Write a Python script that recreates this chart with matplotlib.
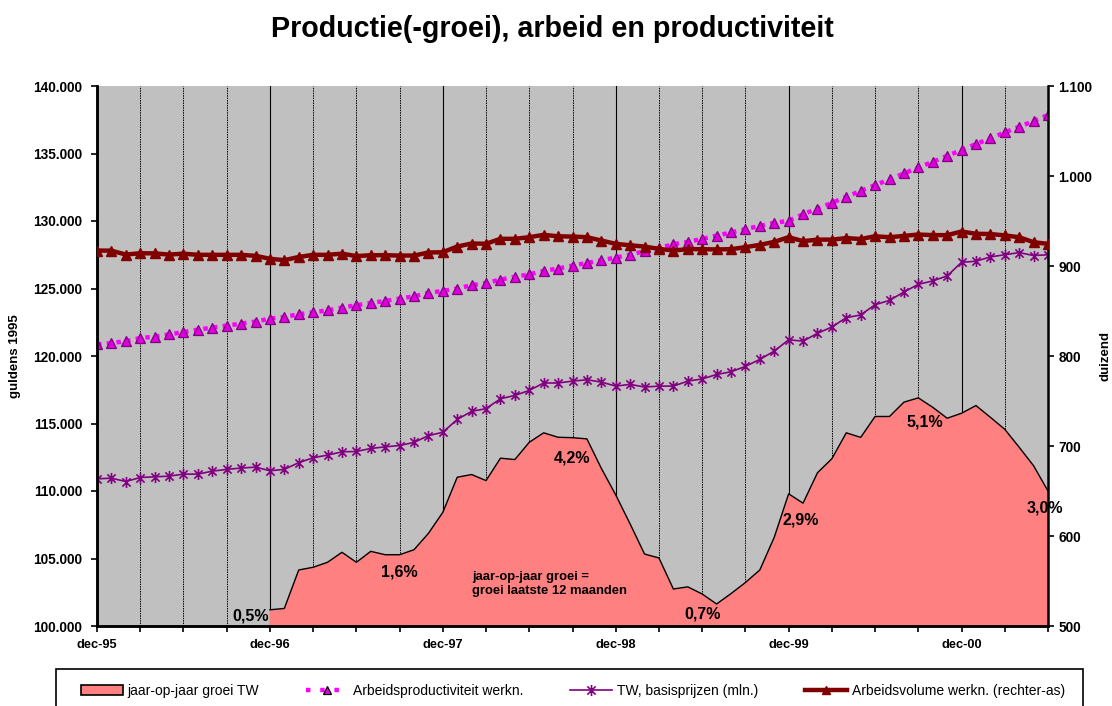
import numpy as np
import matplotlib
matplotlib.use("Agg")
import matplotlib.pyplot as plt
from matplotlib.path import Path
from matplotlib.patches import Patch, Rectangle
from matplotlib.lines import Line2D
from matplotlib.ticker import FuncFormatter, MultipleLocator

plt.rcParams['font.family'] = ['Liberation Sans', 'DejaVu Sans']

# ---------------- data (monthly, dec-95 .. jun-01) ----------------
months = [f"{m}-{y:02d}" for y in range(95, 102)
          for m in ["jan", "feb", "mrt", "apr", "mei", "jun", "jul", "aug", "sep", "okt", "nov", "dec"]]
months = months[11:11 + 67]   # dec-95 .. jun-01

productiviteit = [120860, 120955, 121105, 121330, 121430, 121600, 121770, 121950, 122100, 122250,
                  122400, 122550, 122770, 122890, 123090, 123240, 123380, 123580, 123760, 123930,
                  124080, 124250, 124420, 124670, 124820, 125000, 125240, 125410, 125660, 125860,
                  126050, 126300, 126480, 126700, 126890, 127090, 127290, 127510, 127760, 128000,
                  128280, 128450, 128670, 128920, 129150, 129390, 129640, 129860, 130010, 130500,
                  130920, 131340, 131790, 132230, 132660, 133080, 133520, 133970, 134380, 134830,
                  135250, 135700, 136120, 136560, 136980, 137400, 137850]

tw_basisprijzen = [110900, 110950, 110700, 111000, 111050, 111100, 111250, 111250, 111470, 111600,
                   111700, 111770, 111500, 111600, 112100, 112460, 112660, 112900, 112930, 113150,
                   113270, 113370, 113600, 114100, 114350, 115300, 115900, 116100, 116830, 117080,
                   117450, 118000, 118000, 118140, 118240, 118070, 117770, 117900, 117700, 117770,
                   117770, 118140, 118300, 118630, 118830, 119230, 119750, 120360, 121200, 121100,
                   121680, 122150, 122840, 123040, 123800, 124120, 124740, 125310, 125560, 125930,
                   126940, 127020, 127340, 127500, 127660, 127440, 127500]

arbeidsvolume = [917.2, 917.0, 912.7, 914.2, 914.0, 912.7, 913.7, 912.4, 912.4, 912.4,
                 912.4, 911.3, 908.0, 906.5, 910.0, 912.4, 912.4, 913.7, 911.0, 912.0,
                 912.0, 911.6, 911.6, 915.0, 915.3, 921.6, 925.0, 924.7, 930.2, 930.2,
                 932.0, 934.6, 933.0, 932.7, 932.0, 928.3, 924.6, 923.0, 921.6, 919.0,
                 917.2, 918.7, 918.7, 918.4, 918.7, 920.9, 923.5, 926.8, 932.0, 927.6,
                 929.3, 929.3, 931.0, 930.0, 933.0, 932.0, 933.4, 935.0, 934.3, 934.3,
                 938.3, 935.8, 935.5, 934.0, 932.0, 926.4, 924.6]

# jaar-op-jaar groei TW (area, drawn on left-axis scale), dec-96 .. jun-01
groei_start = 12
groei_tw = [101200, 101300, 104150, 104350, 104720, 105460, 104720, 105530, 105280, 105280,
            105650, 106860, 108420, 111020, 111220, 110770, 112430, 112330, 113610, 114310,
            113980, 113950, 113860, 111680, 109710, 107560, 105330, 105040, 102740, 102900,
            102370, 101630, 102400, 103220, 104150, 106570, 109790, 109100, 111350, 112390,
            114310, 113970, 115520, 115520, 116580, 116900, 116200, 115390, 115760, 116330,
            115460, 114570, 113240, 111870, 110000]

groei_labels = ["0,5%", "1,6%", "4,2%", "0,7%", "2,9%", "5,1%", "3,0%"]
groei_label_months = [12, 21, 33, 42, 48, 57, 66]

xtick_labels = ["dec-95", "dec-96", "dec-97", "dec-98", "dec-99", "dec-00"]

# ---------------- figure ----------------
W, H = 1112, 706
fig = plt.figure(figsize=(W / 100, H / 100), dpi=100)
L, R, T, B = 97, 1048, 86, 626
ax = fig.add_axes([L / W, 1 - B / H, (R - L) / W, (B - T) / H])
ax.set_facecolor('#C0C0C0')

x = np.arange(len(months))
gx = np.arange(groei_start, groei_start + len(groei_tw))

# vertical grid (quarterly)
for m in range(3, len(months) - 1, 3):
    ax.axvline(m, color='black', lw=0.8 if m % 12 == 0 else 0.7,
               ls='-' if m % 12 == 0 else (0, (1.5, 1)), zorder=1)

ax.fill_between(gx, 100000, groei_tw, facecolor='#FF8080', edgecolor='none', zorder=2)
ax.plot(gx, groei_tw, color='black', lw=1.0, zorder=2.5)

asterisk = Path([(-1, -1), (1, 1), (-1, 1), (1, -1), (0, -1.35), (0, 1.35)],
                [Path.MOVETO, Path.LINETO] * 3)

ax.plot(x, tw_basisprijzen, color='#800080', lw=1.2, marker=asterisk, ms=8,
        mfc='none', mec='#800080', mew=1.2, zorder=3)
ax.plot(x, productiviteit, color='#FF00FF', lw=3.2, ls=(0, (1, 1.2)), zorder=3)
ax.plot(x, productiviteit, ls='none', marker='^', ms=6.5, mfc='#DD00DD',
        mec='#800080', mew=0.9, zorder=3.5)

ax.set_xlim(0, len(months) - 1)
ax.set_ylim(100000, 140000)

ax2 = ax.twinx()
ax2.plot(x, arbeidsvolume, color='#800000', lw=3.2, marker='^', ms=6.5,
         mfc='#800000', mec='#800000', zorder=4)
ax2.set_ylim(500, 1100)

fmt = FuncFormatter(lambda v, p: f"{int(round(v)):,}".replace(",", "."))
ax.yaxis.set_major_locator(MultipleLocator(5000))
ax.yaxis.set_major_formatter(fmt)
ax2.yaxis.set_major_locator(MultipleLocator(100))
ax2.yaxis.set_major_formatter(fmt)

ax.set_xticks(np.arange(0, len(months), 3))
ax.set_xticklabels([xtick_labels[i // 12] if i % 12 == 0 else "" for i in range(0, len(months), 3)])

for a in (ax, ax2):
    a.spines['top'].set_visible(False)
    for s in ('left', 'right', 'bottom'):
        a.spines[s].set_linewidth(1.8)
        a.spines[s].set_color('black')
ax.spines['right'].set_visible(False)

ax.tick_params(axis='y', direction='out', length=4.5, width=1.2, pad=6,
               labelsize=9.8, colors='black')
ax.tick_params(axis='x', direction='out', length=4.5, width=1.2, pad=5,
               labelsize=9.2, colors='black')
ax2.tick_params(axis='y', direction='out', length=4.5, width=1.2, pad=3,
                labelsize=9.8, colors='black')
for lab in ax.get_xticklabels() + ax.get_yticklabels() + ax2.get_yticklabels():
    lab.set_fontweight('bold')

ax.set_ylabel("guldens 1995", fontsize=9.5, fontweight='bold', labelpad=9)
ax2.set_ylabel("duizend", fontsize=9.5, fontweight='bold', labelpad=5)

# growth labels
offsets = {12: (-1, -6, 'right'), 21: (0, -17, 'center'), 33: (0, -20, 'center'),
           42: (0, -20, 'center'), 48: (12, -26, 'center'), 57: (6, -24, 'center'),
           66: (-3, -17, 'center')}
for lab, m in zip(groei_labels, groei_label_months):
    dx, dy, ha = offsets[m]
    ax.annotate(lab, (m, groei_tw[m - groei_start]), xytext=(dx * 0.72, dy * 0.72),
                textcoords='offset points', ha=ha, va='center', fontsize=11.5,
                fontweight='bold', zorder=6)

ax.text(26.05, 103100, "jaar-op-jaar groei =\ngroei laatste 12 maanden", fontsize=9.4,
        fontweight='bold', ha='left', va='center', linespacing=1.2, zorder=6)

fig.text(552 / W, 1 - 29 / H, "Productie(-groei), arbeid en productiviteit",
         ha='center', va='center', fontsize=20.6, fontweight='bold')

# legend
handles = [
    Patch(facecolor='#FF8080', edgecolor='black', lw=1.2),
    Line2D([], [], color='#FF00FF', lw=3.2, ls=(0, (1, 2.2)), marker='^', ms=6,
           mfc='#DD00DD', mec='black', mew=0.9),
    Line2D([], [], color='#800080', lw=1.2, marker=asterisk, ms=8, mfc='none',
           mec='#800080', mew=1.2),
    Line2D([], [], color='#800000', lw=3.2, marker='^', ms=6, mfc='#800000', mec='#800000'),
]
labels = ["jaar-op-jaar groei TW", "Arbeidsproductiviteit werkn.",
          "TW, basisprijzen (mln.)", "Arbeidsvolume werkn. (rechter-as)"]
fig.legend(handles, labels, loc='center', bbox_to_anchor=(573 / W, 1 - 691 / H),
           ncol=4, frameon=False, fontsize=10, handlelength=3.0, handletextpad=0.35,
           columnspacing=3.4, handleheight=0.8)
fig.patches.append(Rectangle((56 / W, -0.05), (1083 - 56) / W, 0.05 + (1 - 669 / H),
                             transform=fig.transFigure, facecolor='none',
                             edgecolor='black', lw=1.2))

fig.savefig("out.png", dpi=100)
